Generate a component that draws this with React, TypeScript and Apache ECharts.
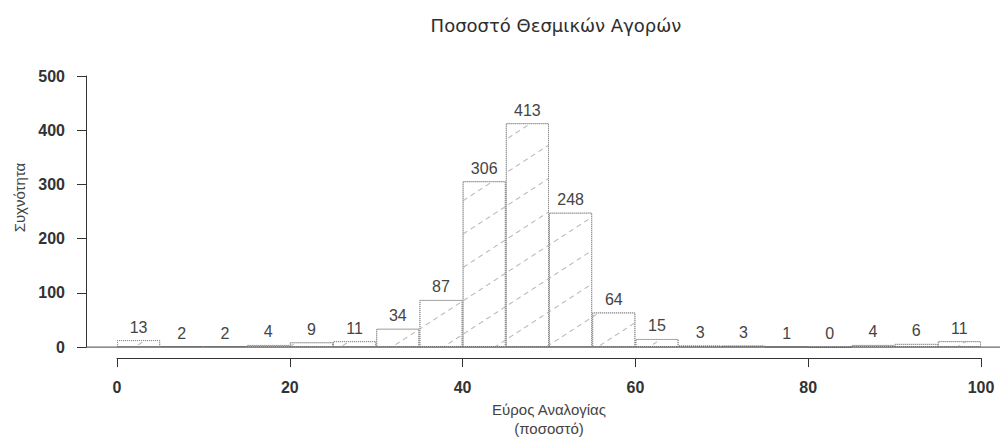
import React, { useEffect, useRef } from "react";
import * as echarts from "echarts";

// Histogram of institutional purchase share, 5-point bins from 0 to 100
const binStarts = [0, 5, 10, 15, 20, 25, 30, 35, 40, 45, 50, 55, 60, 65, 70, 75, 80, 85, 90, 95];
const counts = [13, 2, 2, 4, 9, 11, 34, 87, 306, 413, 248, 64, 15, 3, 3, 1, 0, 4, 6, 11];
const yTicks = [0, 100, 200, 300, 400, 500];
const xTicks = [0, 20, 40, 60, 80, 100];

const FONT = "'Liberation Sans', Arial, Helvetica, sans-serif";
const TITLE_FONT = "'DejaVu Sans', Verdana, sans-serif";
const GRID = { left: 117, right: 19, top: 76, bottom: 90 };
const Y_AXIS_OFFSET = 31;

export default function App() {
  const ref = useRef<HTMLDivElement>(null);

  useEffect(() => {
    if (!ref.current) return;
    const chart = echarts.init(ref.current, undefined, { renderer: "svg" });

    const option: any = {
      animation: false,
      backgroundColor: "#ffffff",
      title: {
        text: "Ποσοστό Θεσμικών Αγορών",
        left: 551,
        top: 11,
        textAlign: "center",
        textStyle: { fontFamily: TITLE_FONT, fontSize: 18, fontWeight: "normal", color: "#2e2e2e" },
      },
      grid: { ...GRID, containLabel: false },
      xAxis: [
        {
          type: "category",
          data: binStarts.map((b) => `${b}-${b + 5}`),
          show: false,
          boundaryGap: true,
        },
        {
          type: "value",
          min: xTicks[0],
          max: xTicks[xTicks.length - 1],
          interval: 20,
          position: "bottom",
          offset: 11,
          axisLine: { show: true, onZero: false, lineStyle: { color: "#333", width: 1 } },
          axisTick: { show: true, length: 9, lineStyle: { color: "#333" } },
          axisLabel: {
            margin: 21,
            fontFamily: FONT,
            fontSize: 16,
            fontWeight: "bold",
            color: "#333",
            formatter: (v: number) => (xTicks.includes(v) ? String(v) : ""),
          },
          splitLine: { show: false },
          name: "Εύρος Αναλογίας\n(ποσοστό)",
          nameLocation: "middle",
          nameGap: 40,
          nameTextStyle: { fontFamily: FONT, fontSize: 15, color: "#444", lineHeight: 19, verticalAlign: "top" },
        },
      ],
      yAxis: {
        type: "value",
        min: yTicks[0],
        max: yTicks[yTicks.length - 1],
        interval: 100,
        offset: Y_AXIS_OFFSET,
        axisLine: { show: true, onZero: false, lineStyle: { color: "#333", width: 1 } },
        axisTick: { show: true, length: 9, lineStyle: { color: "#333" } },
        axisLabel: {
          margin: 21,
          fontFamily: FONT,
          fontSize: 16,
          fontWeight: "bold",
          color: "#333",
        },
        splitLine: { show: false },
        name: "Συχνότητα",
        nameLocation: "middle",
        nameGap: 58,
        nameRotate: 90,
        nameTextStyle: { fontFamily: FONT, fontSize: 15, color: "#444", padding: [0, 0, 0, 28] },
      },
      series: [
        {
          type: "bar",
          xAxisIndex: 0,
          data: counts,
          barWidth: "100%",
          barCategoryGap: 0,
          itemStyle: {
            color: "#ffffff",
            borderColor: "#8a8a8a",
            borderWidth: 1,
            borderType: "dotted",
            decal: {
              symbol: "rect",
              symbolSize: 1,
              color: "#b5b5b5",
              dashArrayX: [[5, 4]],
              dashArrayY: [1, 27],
              rotation: (-33 * Math.PI) / 180,
            },
          },
          label: {
            show: true,
            position: "top",
            distance: 5,
            fontFamily: FONT,
            fontSize: 16,
            color: "#444",
          },
          emphasis: { disabled: true },
        },
      ],
    };

    chart.setOption(option);

    // Zero baseline running from the y axis to the right edge
    const y0 = chart.convertToPixel({ yAxisIndex: 0 }, 0) as number;
    chart.setOption({
      graphic: [
        {
          type: "line",
          shape: { x1: GRID.left - Y_AXIS_OFFSET, y1: y0, x2: 1000, y2: y0 },
          style: { stroke: "#444", lineWidth: 1 },
          z: 10,
        },
      ],
    });

    return () => chart.dispose();
  }, []);

  return <div ref={ref} style={{ width: 1000, height: 443, position: "absolute", left: 0, top: 0 }} />;
}
